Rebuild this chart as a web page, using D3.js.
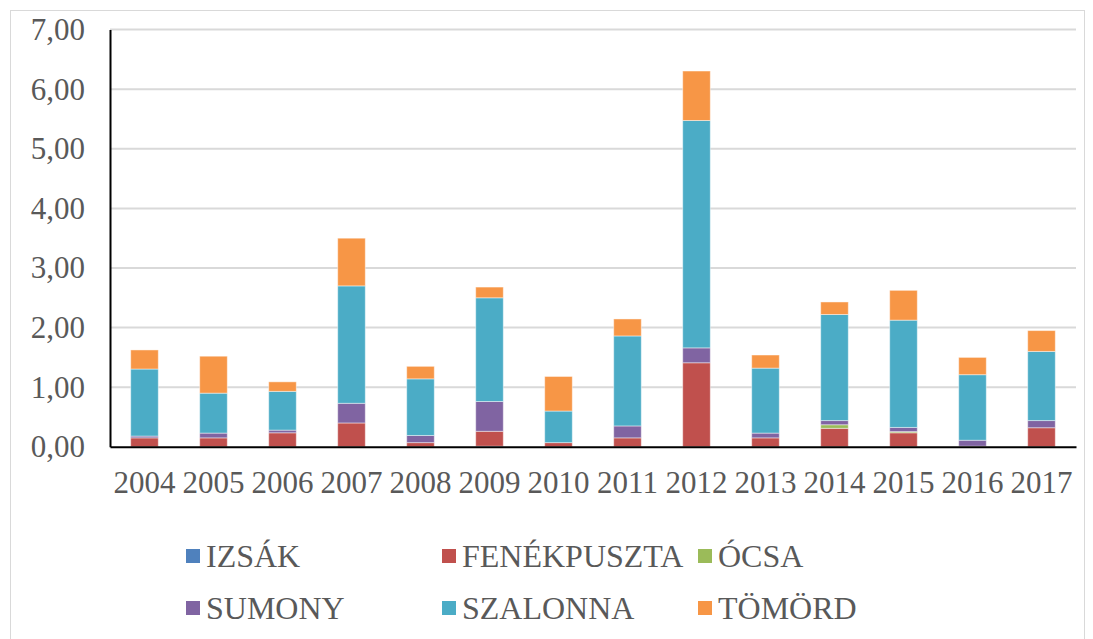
<!DOCTYPE html>
<html><head><meta charset="utf-8">
<script src="https://cdn.jsdelivr.net/npm/d3@7"></script>
<style>body{margin:0;background:#fff}svg{display:block}</style>
</head><body>
<svg id="c" width="1093" height="639"></svg>
<script>
const years = ["2004","2005","2006","2007","2008","2009","2010","2011","2012","2013","2014","2015","2016","2017"];
const seriesNames = ["IZSÁK","FENÉKPUSZTA","ÓCSA","SUMONY","SZALONNA","TÖMÖRD"];
const colors = ["#4F81BD","#C0504D","#9BBB59","#8064A2","#4BACC6","#F79646"];
const izsak       = [0,0,0,0,0,0.01,0,0,0,0,0,0,0,0];
const fenekpuszta = [0.15,0.15,0.235,0.40,0.07,0.25,0.07,0.15,1.41,0.15,0.31,0.235,0,0.32];
const ocsa        = [0,0,0,0,0,0,0,0,0,0,0.06,0.02,0.01,0];
const sumony      = [0.03,0.08,0.045,0.33,0.12,0.50,0,0.20,0.25,0.08,0.07,0.07,0.10,0.12];
const szalonna    = [1.125,0.67,0.65,1.97,0.95,1.74,0.53,1.51,3.815,1.09,1.78,1.80,1.10,1.16];
const tomord      = [0.32,0.62,0.16,0.80,0.21,0.18,0.58,0.285,0.83,0.22,0.21,0.50,0.29,0.35];
const yTicks = [0,1,2,3,4,5,6,7];

const allSeries = [izsak,fenekpuszta,ocsa,sumony,szalonna,tomord];
const table = years.map((y,i)=>{const o={year:y};seriesNames.forEach((s,k)=>o[s]=allSeries[k][i]);return o;});
const stacked = d3.stack().keys(seriesNames)(table);

const svg = d3.select("#c");
const font = "'Liberation Serif','Times New Roman',serif";
const L=110,R=1076,T=29.6,B=446.8;
svg.append("rect").attr("x",10.5).attr("y",10.5).attr("width",1074).attr("height",640).attr("fill","none").attr("stroke","#d9d9d9").attr("stroke-width",1);

const x = d3.scaleBand().domain(years).range([L,R]).paddingInner(0.6).paddingOuter(0.3);
const y = d3.scaleLinear().domain([0,7]).range([B,T]);

// gridlines
svg.append("g").selectAll("line").data(yTicks.filter(d=>d>0)).join("line")
  .attr("x1",L).attr("x2",R).attr("y1",d=>y(d)).attr("y2",d=>y(d))
  .attr("stroke","#d9d9d9").attr("stroke-width",2);

// bars
svg.append("g").selectAll("g").data(stacked).join("g")
  .attr("fill",(d,i)=>colors[i])
  .selectAll("rect").data(d=>d).join("rect")
  .attr("x",d=>x(d.data.year)).attr("width",x.bandwidth())
  .attr("y",d=>y(d[1])).attr("height",d=>Math.max(0,y(d[0])-y(d[1])))
  .attr("stroke","rgba(255,255,255,0.45)").attr("stroke-width",1);

// axes
const yAxis = d3.axisLeft(y).tickValues(yTicks).tickSize(0).tickPadding(25)
  .tickFormat(d=>d3.format(".2f")(d).replace(".",","));
const gy = svg.append("g").attr("transform",`translate(${L},0)`).call(yAxis);
gy.select(".domain").attr("stroke","#000").attr("stroke-width",2);
gy.selectAll("text").attr("font-family",font).attr("font-size",31).attr("fill","#595959");

const xAxis = d3.axisBottom(x).tickSize(0).tickPadding(24);
const gx = svg.append("g").attr("transform",`translate(0,${B})`).call(xAxis);
gx.select(".domain").attr("stroke","#000").attr("stroke-width",2);
gx.selectAll("text").attr("font-family",font).attr("font-size",31).attr("fill","#595959");

// legend
const legX=[186,442,698], legY=[556,608];
const leg = svg.append("g").selectAll("g").data(seriesNames).join("g")
  .attr("transform",(d,i)=>`translate(${legX[i%3]},${legY[Math.floor(i/3)]})`);
leg.append("rect").attr("x",0).attr("y",-7).attr("width",14).attr("height",14).attr("fill",(d,i)=>colors[i]);
leg.append("text").attr("x",20).attr("y",0).attr("dy","0.35em").text(d=>d)
  .attr("font-family",font).attr("font-size",32).attr("fill","#595959");
</script>
</body></html>
